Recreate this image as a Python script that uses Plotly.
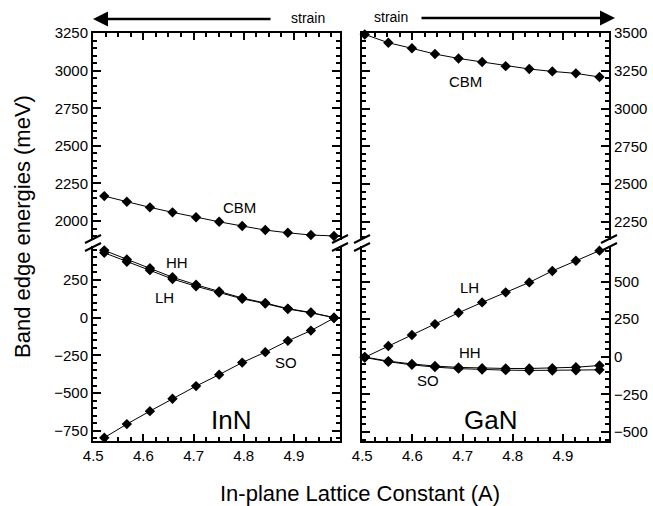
import plotly.graph_objects as go

# ---------------- data ----------------
inn_x = [4.522, 4.567, 4.613, 4.658, 4.705, 4.751, 4.797, 4.843, 4.888, 4.934, 4.980]
inn_cbm = [2166, 2128, 2091, 2058, 2025, 1995, 1967, 1940, 1922, 1907, 1901]
inn_hh = [446, 386, 328, 268, 218, 173, 130, 97, 60, 34, 0]
inn_lh = [430, 371, 315, 256, 208, 166, 125, 93, 57, 32, 0]
inn_so = [-796, -706, -620, -538, -454, -378, -298, -229, -154, -86, -3]

gan_x = [4.505, 4.552, 4.599, 4.645, 4.692, 4.739, 4.786, 4.833, 4.879, 4.926, 4.973]
gan_cbm = [3491, 3436, 3399, 3361, 3332, 3308, 3281, 3262, 3246, 3233, 3209]
gan_lh = [-4, 71, 144, 217, 292, 361, 428, 494, 570, 638, 705]
gan_hh = [-2, -29, -48, -62, -71, -76, -78, -78, -76, -70, -58]
gan_so = [-5, -33, -54, -69, -79, -85, -89, -91, -91, -90, -87]

FONT = "Liberation Sans, Arial, sans-serif"
W, H = 653, 506
ML, MR, MT, MB = 93, 44, 33, 65
PW, PH = W - ML - MR, H - MT - MB


def px(x):
    return (x - ML) / PW


def py(y):
    return (H - MB - y) / PH


left_dom = [0, px(340)]
right_dom = [px(362), 1]
up_dom = [py(240), 1]
low_dom = [0, py(246)]

fig = go.Figure()
mk = dict(symbol="diamond", size=8, color="black")
ln = dict(color="black", width=1)


def add(x, y, xa, ya):
    fig.add_trace(go.Scatter(x=x, y=y, mode="lines+markers", marker=mk, line=ln,
                             xaxis=xa, yaxis=ya, showlegend=False, cliponaxis=False))


add(inn_x, inn_cbm, "x2", "y2")
add(inn_x, inn_hh, "x", "y")
add(inn_x, inn_lh, "x", "y")
add(inn_x, inn_so, "x", "y")
add(gan_x, gan_cbm, "x4", "y4")
add(gan_x, gan_lh, "x3", "y3")
add(gan_x, gan_hh, "x3", "y3")
add(gan_x, gan_so, "x3", "y3")

tickfont = dict(family=FONT, size=15, color="black")
xrange_ = [4.4995, 4.992]


def xax(dom, anchor, side, labels):
    return dict(domain=dom, anchor=anchor, side=side, range=xrange_, showline=True,
                linecolor="black", linewidth=2, mirror=False, ticks="inside",
                ticklen=7, tickwidth=2, tickcolor="black", dtick=0.1, tick0=4.5,
                showticklabels=labels, tickfont=tickfont, showgrid=False, zeroline=False,
                tickformat=".1f", automargin=False,
                minor=dict(dtick=0.025, ticklen=4, tickwidth=1.5, tickcolor="black", ticks="inside"))


def yax(dom, anchor, side, rng):
    return dict(domain=dom, anchor=anchor, side=side, range=rng, showline=True,
                linecolor="black", linewidth=2, mirror="ticks", ticks="inside",
                ticklen=8, tickwidth=2, tickcolor="black", dtick=250, tick0=0,
                tickfont=tickfont, showgrid=False, zeroline=False, automargin=False,
                minor=dict(dtick=50, ticklen=4, tickwidth=1.5, tickcolor="black", ticks="inside"))


fig.update_layout(
    width=W, height=H, margin=dict(l=ML, r=MR, t=MT, b=MB, autoexpand=False),
    paper_bgcolor="white", plot_bgcolor="white",
    font=dict(family=FONT, color="black"),
    xaxis=xax(left_dom, "y", "bottom", True),
    yaxis=yax(low_dom, "x", "left", [-818, 475]),
    xaxis2=xax(left_dom, "y2", "top", False),
    yaxis2=yax(up_dom, "x2", "left", [1874, 3250.5]),
    xaxis3=xax(right_dom, "y3", "bottom", True),
    yaxis3=yax(low_dom, "x3", "right", [-560, 736]),
    xaxis4=xax(right_dom, "y4", "top", False),
    yaxis4=yax(up_dom, "x4", "right", [2129, 3500.5]),
)

# break marks
shapes = []
for bx in [93, 340, 362, 609]:
    for by in [239, 247]:
        shapes.append(dict(type="line", xref="paper", yref="paper",
                           xsizemode="pixel", ysizemode="pixel",
                           xanchor=px(bx), yanchor=py(by),
                           x0=-8, x1=8, y0=-4, y1=4,
                           line=dict(color="black", width=2)))
fig.update_layout(shapes=shapes)

ann = []
lab = dict(family=FONT, size=15, color="black")
big = dict(family=FONT, size=26, color="black")
for txt, x, y, xr, yr, f in [
    ("CBM", 4.791, 2093, "x2", "y2", lab),
    ("HH", 4.666, 363, "x", "y", lab),
    ("LH", 4.643, 131, "x", "y", lab),
    ("SO", 4.884, -300, "x", "y", lab),
    ("InN", 4.775, -678, "x", "y", big),
    ("CBM", 4.706, 3182, "x4", "y4", lab),
    ("LH", 4.714, 463, "x3", "y3", lab),
    ("HH", 4.714, 25, "x3", "y3", lab),
    ("SO", 4.632, -155, "x3", "y3", lab),
    ("GaN", 4.756, -422, "x3", "y3", big),
]:
    ann.append(dict(text=txt, x=x, y=y, xref=xr, yref=yr, showarrow=False, font=f,
                    xanchor="center", yanchor="middle"))

# strain arrows
ann.append(dict(text="", x=px(93), y=py(19), xref="paper", yref="paper", ax=179, ay=0,
                showarrow=True, arrowhead=2, arrowsize=1.2, arrowwidth=2.5, arrowcolor="black"))
ann.append(dict(text="", x=px(615), y=py(18), xref="paper", yref="paper", ax=-195, ay=0,
                showarrow=True, arrowhead=2, arrowsize=1.2, arrowwidth=2.5, arrowcolor="black"))
ann.append(dict(text="strain", x=px(308), y=py(18), xref="paper", yref="paper", showarrow=False,
                font=dict(family=FONT, size=14, color="black"), xanchor="center", yanchor="middle"))
ann.append(dict(text="strain", x=px(391), y=py(17), xref="paper", yref="paper", showarrow=False,
                font=dict(family=FONT, size=14, color="black"), xanchor="center", yanchor="middle"))

# axis titles
ann.append(dict(text="Band edge energies (meV)", x=px(22), y=py(227), xref="paper", yref="paper",
                showarrow=False, textangle=-90, font=dict(family=FONT, size=22, color="black"),
                xanchor="center", yanchor="middle"))
ann.append(dict(text="In-plane Lattice Constant (A)", x=px(360), y=py(493), xref="paper", yref="paper",
                showarrow=False, font=dict(family=FONT, size=22, color="black"),
                xanchor="center", yanchor="middle"))
fig.update_layout(annotations=ann)

fig.write_html("out.html", config={"displayModeBar": False},
               post_script="document.body.style.margin='0';document.body.style.overflow='hidden';")
